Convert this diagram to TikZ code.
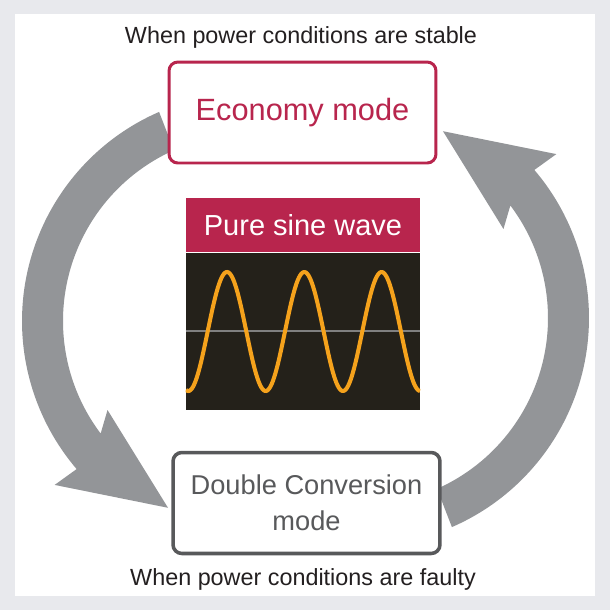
\documentclass[tikz,border=0pt]{standalone}
\usepackage{fontspec}
\setmainfont{Liberation Sans}
\usetikzlibrary{positioning}
\definecolor{mcrimson}{HTML}{B8254D}
\definecolor{mgray}{HTML}{939598}
\definecolor{mframe}{HTML}{58595B}
\definecolor{mdark}{HTML}{24211A}
\definecolor{morange}{HTML}{F5A21C}
\definecolor{mpage}{HTML}{E8E9ED}
\definecolor{mtext}{HTML}{231F20}
\tikzset{modebox/.style = {draw, fill=white, rounded corners=5pt,
                           minimum width=5.34cm, minimum height=2.02cm,
                           align=center}}
\tikzset{caption/.style = {text=mtext, font=\fontsize{13.3}{16}\selectfont}}
\tikzset{modearrow/.pic = {
           \fill[mgray] (-113.5:228) arc[start angle=-113.5, end angle=-220.5, radius=228]
                        -- (-220:255) -- (-246.3:204) -- (-212:168) -- (-217:187)
                        arc[start angle=-217, end angle=-114, radius=187] -- cycle;}}

\begin{document}
\begin{tikzpicture}[x=0.02cm, y=-0.02cm]
      \useasboundingbox (0, 0) rectangle (610, 610);
      \fill[mpage] (0, 0) rectangle (610, 610);
      \fill[white] (15, 14) rectangle (595, 596);

      \pic at (250, 321) {modearrow};
      \pic[rotate=180] at (361, 318) {modearrow};

      \node[caption] (stable) at (301, 37) {When power conditions are stable};
      \node[modebox, draw=mcrimson, line width=1.7pt, text=mcrimson,
            font=\fontsize{17.5}{21}\selectfont] (eco) at (302.5, 112.5) {Economy mode};

      \node[fill=mcrimson, text=white, minimum width=4.68cm, minimum height=1.08cm,
            inner sep=0pt, font=\fontsize{16.5}{20}\selectfont] (sinehead) at (303, 225) {Pure sine wave};
      \node[fill=mdark, minimum width=4.68cm, minimum height=3.14cm, inner sep=0pt,
            below=0pt of sinehead] (scope) {};
      \draw[gray, line width=1pt] (scope.west) -- (scope.east);
      \begin{scope}
        \clip (scope.south west) rectangle (scope.north east);
        \draw[morange, line width=2.3pt]
          plot[domain=186:420, samples=200] (\x, {331.5-59.5*cos(4.657*(\x-227))});
      \end{scope}

      \node[modebox, draw=mframe, line width=2pt, text=mframe,
            font=\fontsize{15.5}{20.4}\selectfont] (dcm) at (306.5, 503) {Double Conversion\\mode};
      \node[caption] (faulty) at (303, 579) {When power conditions are faulty};
\end{tikzpicture}
\end{document}
